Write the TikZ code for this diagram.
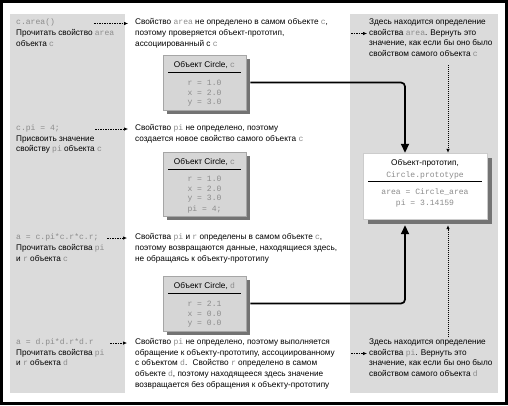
\documentclass[tikz,border=0pt]{standalone}
\usepackage{fontspec}
\setmainfont{Liberation Sans}
\setmonofont{Liberation Mono}
\usetikzlibrary{arrows.meta,calc}
\definecolor{panel}{gray}{0.86}
\definecolor{boxfill}{gray}{0.84}
\definecolor{monocol}{gray}{0.55}
\definecolor{shadowcol}{gray}{0.45}
\newcommand{\mo}[1]{{\fontsize{8.1}{10.9}\ttfamily\color{monocol}#1}}
\newcommand{\fl}{\rule{0pt}{8bp}}
\tikzset{
  txt/.style={anchor=north west, align=left, inner sep=0pt, font=\fontsize{8.25}{10.9}\selectfont},
  objbox/.style={draw=gray!70, line width=0.5bp, fill=boxfill, minimum width=83bp, inner sep=0pt},
  protobox/.style={draw=gray!40, line width=0.4bp, fill=white, minimum width=124bp, minimum height=66bp, inner sep=0pt},
  shad/.style={fill=shadowcol},
  btitle/.style={inner sep=0pt, font=\fontsize{8.3}{10}\selectfont},
  bline/.style={inner sep=0pt, font=\fontsize{8.1}{10}\ttfamily, text=monocol},
  dasharrow/.style={line width=0.6bp, dash pattern=on 1.6bp off 0.9bp, -{Latex[length=4bp,width=3.4bp]}},
  dotarrow/.style={line width=0.6bp, dash pattern=on 1bp off 1bp, -{Latex[length=4bp,width=3.4bp]}},
  solidarrow/.style={line width=1.7bp, rounded corners=4bp, -{Triangle[length=9bp,width=8bp]}}
}
\begin{document}
\begin{tikzpicture}[x=1bp,y=-1bp]
\useasboundingbox (0,0) rectangle (508,405);
\fill[white] (0,0) rectangle (508,405);
% panels
\fill[panel] (10,14) rectangle (125,393);
\fill[panel] (350,14) rectangle (498,393);
\draw[line width=3bp] (1.5,1.5) rectangle (506.5,403.5);

% left texts (north = first baseline - 8)
\node[txt] (l1) at (16,16.5) {\fl\mo{c.area()}\\Прочитать свойство \mo{area}\\объекта \mo{c}};
\node[txt] (l2) at (16,122) {\fl\mo{c.pi = 4;}\\Присвоить значение\\свойству \mo{pi} объекта \mo{c}};
\node[txt] (l3) at (16,231.5) {\fl\mo{a = c.pi*c.r*c.r;}\\Прочитать свойства \mo{pi}\\и \mo{r} объекта \mo{c}};
\node[txt] (l4) at (16,336) {\fl\mo{a = d.pi*d.r*d.r}\\Прочитать свойства \mo{pi}\\и \mo{r} объекта \mo{d}};

% middle texts
\node[txt] (m1) at (135,16.5) {\fl Свойство \mo{area} не определено в самом объекте \mo{c},\\поэтому проверяется объект-прототип,\\ассоциированный с \mo{c}};
\node[txt] (m2) at (135,122) {\fl Свойство \mo{pi} не определено, поэтому\\создается новое свойство самого объекта \mo{c}};
\node[txt] (m3) at (135,231.5) {\fl Свойства \mo{pi} и \mo{r} определены в самом объекте \mo{c},\\поэтому возвращаются данные, находящиеся здесь,\\не обращаясь к объекту-прототипу};
\node[txt] (m4) at (135,336) {\fl Свойство \mo{pi} не определено, поэтому выполняется\\обращение к объекту-прототипу, ассоциированному\\с объектом \mo{d}. \ Свойство \mo{r} определено в самом\\объекте \mo{d}, поэтому находящееся здесь значение\\возвращается без обращения к объекту-прототипу};

% right texts
\node[txt] (r1) at (369,16) {\fl Здесь находится определение\\свойства \mo{area}. Вернуть это\\значение, как если бы оно было\\свойством самого объекта \mo{c}};
\node[txt] (r4) at (369,336) {\fl Здесь находится определение\\свойства \mo{pi}. Вернуть это\\значение, как если бы оно было\\свойством самого объекта \mo{d}};

% dashed arrows
\coordinate (a1s) at (94,23.5);  \coordinate (a1e) at (128,23.5);
\coordinate (a2s) at (95,129);   \coordinate (a2e) at (128,129);
\coordinate (a3s) at (107,238);  \coordinate (a3e) at (127,238);
\coordinate (a4s) at (110,343);  \coordinate (a4e) at (127,343);
\coordinate (a5s) at (351,33.5); \coordinate (a5e) at (367,33.5);
\coordinate (a6s) at (351,353.5);\coordinate (a6e) at (367,353.5);
\foreach \i in {1,...,6} {\draw[dasharrow] (a\i s) -- (a\i e);}

% object boxes
\fill[shad] (167,59) rectangle (250,114);
\node[objbox, minimum height=55bp] (c1) at (204.5,82.5) {};
\node[btitle] (c1t) at (204.5,65) {Объект Circle, \mo{c}};
\draw[line width=1bp] (168,72) -- (241,72);
\node[bline] (c1a) at (204.5,82.5) {r = 1.0};
\node[bline] (c1b) at (204.5,92.5) {x = 2.0};
\node[bline] (c1c) at (204.5,102.5) {y = 3.0};

\fill[shad] (167,156) rectangle (250,220);
\node[objbox, minimum height=64bp] (c2) at (204.5,184) {};
\node[btitle] (c2t) at (204.5,162) {Объект Circle, \mo{c}};
\draw[line width=1bp] (168,169) -- (241,169);
\node[bline] (c2a) at (204.5,179) {r = 1.0};
\node[bline] (c2b) at (204.5,189) {x = 2.0};
\node[bline] (c2c) at (204.5,199) {y = 3.0};
\node[bline] (c2d) at (204.5,209) {pi = 4;};

\fill[shad] (167,280) rectangle (250,335);
\node[objbox, minimum height=55bp] (d) at (204.5,303.5) {};
\node[btitle] (dt) at (204.5,286) {Объект Circle, \mo{d}};
\draw[line width=1bp] (168,293) -- (241,293);
\node[bline] (da) at (204.5,303.5) {r = 2.1};
\node[bline] (db) at (204.5,313.5) {x = 0.0};
\node[bline] (dc) at (204.5,323.5) {y = 0.0};

% prototype
\fill[shad] (368,158) rectangle (492,224);
\node[protobox] (proto) at (425,186) {};
\node[btitle] (pt1) at (425,163) {Объект-прототип,};
\node[bline] (pt2) at (425,175) {Circle.prototype};
\draw[line width=1bp] (368,181.5) -- (482,181.5);
\node[bline] (pt3) at (425,192) {area = Circle\_area};
\node[bline] (pt4) at (425,203) {pi = 3.14159};

% solid connectors
\coordinate (j1) at (405,82.5);
\coordinate (j2) at (405,303.5);
\draw[solidarrow] ([xshift=4bp]c1.east) -- (j1) -- (j1 |- proto.north);
\draw[solidarrow] ([xshift=4bp]d.east) -- (j2) -- ($(j2 |- proto.south)+(0,6)$);

% dotted connectors
\coordinate (t1) at (448,65);
\coordinate (t2) at (448,337);
\draw[dotarrow] (t1) -- (t1 |- proto.north);
\draw[dotarrow] (t2) -- ($(t2 |- proto.south)+(0,6)$);
\end{tikzpicture}
\end{document}
